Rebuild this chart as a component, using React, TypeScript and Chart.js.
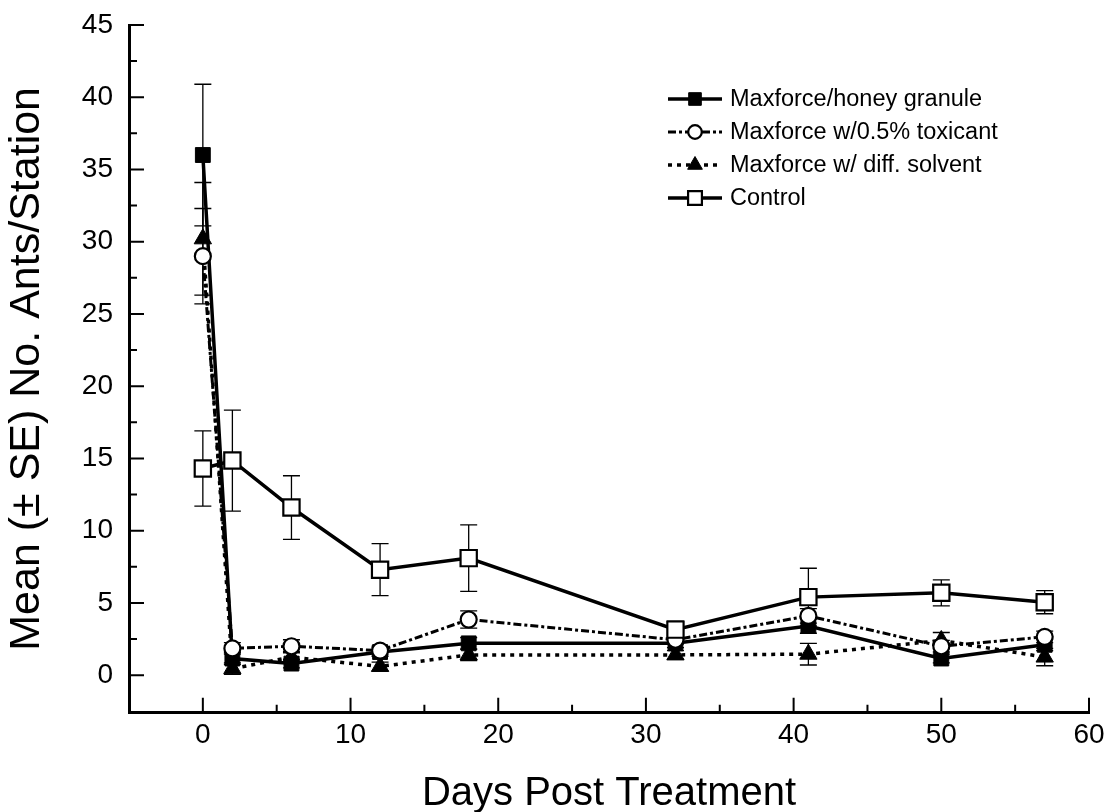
import React, { useEffect, useRef } from "react";
import { Chart, registerables } from "chart.js";

Chart.register(...registerables);

// ---- data ----
const days = [0, 2, 6, 12, 18, 32, 41, 50, 57];

const honeyMean = [36.0, 1.15, 0.8, 1.6, 2.2, 2.2, 3.4, 1.15, 2.1];
const honeySE = [4.9, 0.4, 0.3, 0.3, 0.4, 0.3, 0.5, 0.3, 0.4];

const toxicantMean = [29.0, 1.85, 2.0, 1.7, 3.85, 2.45, 4.1, 2.0, 2.65];
const toxicantSE = [3.3, 0.4, 0.45, 0.3, 0.6, 0.3, 0.5, 0.4, 0.4];

const solventMean = [30.2, 0.45, 1.25, 0.6, 1.4, 1.4, 1.45, 2.4, 1.25];
const solventSE = [3.9, 0.4, 0.4, 0.3, 0.4, 0.3, 0.75, 0.55, 0.6];

const controlMean = [14.3, 14.85, 11.6, 7.3, 8.1, 3.15, 5.4, 5.7, 5.05];
const controlSE = [2.6, 3.5, 2.2, 1.8, 2.3, 0.58, 2.0, 0.9, 0.8];

const seriesLabels = [
  "Maxforce/honey granule",
  "Maxforce w/0.5% toxicant",
  "Maxforce w/ diff. solvent",
  "Control",
];

const xTicks = [0, 10, 20, 30, 40, 50, 60];
const xMinorTicks = [5, 15, 25, 35, 45, 55];
const yTicks = [0, 5, 10, 15, 20, 25, 30, 35, 40, 45];
const yMinorTicks = [2.5, 7.5, 12.5, 17.5, 22.5, 27.5, 32.5, 37.5, 42.5];

const xTitle = "Days Post Treatment";
const yTitle = "Mean (\u00B1 SE) No. Ants/Station";

const FONT = "'Liberation Sans', Arial, Helvetica, sans-serif";

const seMap = [honeySE, toxicantSE, solventSE, controlSE];

function toPoints(vals: number[]) {
  return days.map((d, i) => ({ x: d, y: vals[i] }));
}

function drawMarker(
  ctx: CanvasRenderingContext2D,
  style: string,
  x: number,
  y: number,
  r: number,
  fill: string,
  stroke: string,
  lw: number
) {
  ctx.save();
  ctx.setLineDash([]);
  ctx.fillStyle = fill;
  ctx.strokeStyle = stroke;
  ctx.lineWidth = lw;
  ctx.beginPath();
  if (style === "rect") {
    const s = Math.SQRT1_2 * r;
    ctx.rect(x - s, y - s, 2 * s, 2 * s);
  } else if (style === "circle") {
    ctx.arc(x, y, r, 0, Math.PI * 2);
  } else if (style === "triangle") {
    ctx.moveTo(x, y - r);
    ctx.lineTo(x + r * Math.sin(Math.PI / 3), y + r * 0.5);
    ctx.lineTo(x - r * Math.sin(Math.PI / 3), y + r * 0.5);
    ctx.closePath();
  }
  ctx.fill();
  ctx.stroke();
  ctx.restore();
}

const errorBarPlugin = {
  id: "errorBars",
  beforeDatasetsDraw(chart: any) {
    const { ctx, scales } = chart;
    const xs = scales.x;
    const ys = scales.y;
    ctx.save();
    ctx.strokeStyle = "#000";
    ctx.lineWidth = 1.3;
    ctx.setLineDash([]);
    chart.data.datasets.forEach((ds: any, di: number) => {
      const se = seMap[di];
      ds.data.forEach((p: any, i: number) => {
        const px = xs.getPixelForValue(p.x);
        const top = ys.getPixelForValue(p.y + se[i]);
        const bot = ys.getPixelForValue(p.y - se[i]);
        const cap = 8.5;
        ctx.beginPath();
        ctx.moveTo(px, top);
        ctx.lineTo(px, bot);
        ctx.moveTo(px - cap, top);
        ctx.lineTo(px + cap, top);
        ctx.moveTo(px - cap, bot);
        ctx.lineTo(px + cap, bot);
        ctx.stroke();
      });
    });
    ctx.restore();
  },
};

const innerTicksPlugin = {
  id: "innerTicks",
  afterDatasetsDraw(chart: any) {
    const { ctx, chartArea, scales } = chart;
    const xs = scales.x;
    const ys = scales.y;
    ctx.save();
    ctx.strokeStyle = "#000";
    ctx.lineWidth = 2;
    ctx.setLineDash([]);
    ctx.beginPath();
    xTicks.forEach((v) => {
      const px = xs.getPixelForValue(v);
      ctx.moveTo(px, chartArea.bottom);
      ctx.lineTo(px, chartArea.bottom - 15);
    });
    xMinorTicks.forEach((v) => {
      const px = xs.getPixelForValue(v);
      ctx.moveTo(px, chartArea.bottom);
      ctx.lineTo(px, chartArea.bottom - 8);
    });
    yTicks.forEach((v) => {
      const py = ys.getPixelForValue(v);
      ctx.moveTo(chartArea.left, py);
      ctx.lineTo(chartArea.left + 15, py);
    });
    yMinorTicks.forEach((v) => {
      const py = ys.getPixelForValue(v);
      ctx.moveTo(chartArea.left, py);
      ctx.lineTo(chartArea.left + 8, py);
    });
    ctx.stroke();
    ctx.restore();
  },
};

const legendPlugin = {
  id: "customLegend",
  afterDraw(chart: any) {
    const { ctx } = chart;
    const x0 = 668;
    const x1 = 722;
    const xm = 695;
    const textX = 730;
    const rowY = [99, 132, 165, 198];
    ctx.save();
    chart.data.datasets.forEach((ds: any, i: number) => {
      const y = rowY[i];
      ctx.strokeStyle = "#000";
      ctx.lineWidth = ds.borderWidth;
      ctx.setLineDash(ds.borderDash || []);
      ctx.beginPath();
      ctx.moveTo(x0, y);
      ctx.lineTo(x1, y);
      ctx.stroke();
      drawMarker(
        ctx,
        ds.pointStyle,
        xm,
        y,
        ds.pointRadius * 0.85,
        ds.pointBackgroundColor,
        ds.pointBorderColor,
        ds.pointBorderWidth
      );
      ctx.setLineDash([]);
      ctx.fillStyle = "#000";
      ctx.font = `23.5px ${FONT}`;
      ctx.textAlign = "left";
      ctx.textBaseline = "middle";
      ctx.fillText(ds.label, textX, y + 1);
    });
    ctx.restore();
  },
};

export default function App() {
  const canvasRef = useRef<HTMLCanvasElement | null>(null);

  useEffect(() => {
    const canvas = canvasRef.current;
    if (!canvas) return;
    const chart = new Chart(canvas, {
      type: "line",
      data: {
        datasets: [
          {
            label: seriesLabels[0],
            data: toPoints(honeyMean),
            borderColor: "#000",
            borderWidth: 3.5,
            pointStyle: "rect",
            pointRadius: 10.5,
            pointBackgroundColor: "#000",
            pointBorderColor: "#000",
            pointBorderWidth: 1,
            order: 3,
          },
          {
            label: seriesLabels[1],
            data: toPoints(toxicantMean),
            borderColor: "#000",
            borderWidth: 3,
            borderDash: [8, 3, 3, 3],
            pointStyle: "circle",
            pointRadius: 8,
            pointBackgroundColor: "#fff",
            pointBorderColor: "#000",
            pointBorderWidth: 2.2,
            order: 1,
          },
          {
            label: seriesLabels[2],
            data: toPoints(solventMean),
            borderColor: "#000",
            borderWidth: 3.5,
            borderDash: [4, 5],
            pointStyle: "triangle",
            pointRadius: 10,
            pointBackgroundColor: "#000",
            pointBorderColor: "#000",
            pointBorderWidth: 1,
            order: 2,
          },
          {
            label: seriesLabels[3],
            data: toPoints(controlMean),
            borderColor: "#000",
            borderWidth: 3.5,
            pointStyle: "rect",
            pointRadius: 11.5,
            pointBackgroundColor: "#fff",
            pointBorderColor: "#000",
            pointBorderWidth: 2.2,
            order: 0,
          },
        ] as any,
      },
      options: {
        animation: false,
        responsive: false,
        devicePixelRatio: 1,
        layout: { padding: { left: 0, top: 25, right: 21, bottom: 0 } },
        plugins: {
          legend: { display: false },
          tooltip: { enabled: false },
        },
        elements: { line: { tension: 0 } },
        scales: {
          x: {
            type: "linear",
            min: -5,
            max: 60,
            afterFit: (s: any) => {
              s.height = 99.3;
              s.paddingLeft = 0;
              s.paddingRight = 0;
            },
            afterBuildTicks: (s: any) => {
              s.ticks = xTicks.map((v) => ({ value: v }));
            },
            grid: { display: true, drawOnChartArea: false, drawTicks: false },
            border: { display: true, width: 3, color: "#000" },
            ticks: {
              color: "#000",
              padding: 6,
              maxRotation: 0,
              font: { family: FONT, size: 28, lineHeight: 1.2 },
              callback: (v: any) => String(v),
            },
            title: {
              display: true,
              text: xTitle,
              color: "#000",
              font: { family: FONT, size: 40, lineHeight: 1.2 },
              padding: { top: 0, bottom: -6 },
            },
          },
          y: {
            type: "linear",
            min: -2.6,
            max: 45,
            afterFit: (s: any) => {
              s.width = 129;
              s.paddingTop = 0;
              s.paddingBottom = 0;
            },
            afterBuildTicks: (s: any) => {
              s.ticks = yTicks.map((v) => ({ value: v }));
            },
            grid: { display: true, drawOnChartArea: false, drawTicks: false },
            border: { display: true, width: 3, color: "#000" },
            ticks: {
              color: "#000",
              padding: 16,
              font: { family: FONT, size: 28, lineHeight: 1.2 },
              callback: (v: any) => String(v),
            },
            title: {
              display: true,
              text: yTitle,
              color: "#000",
              font: { family: FONT, size: 43, lineHeight: 1.2 },
              padding: { top: 1, bottom: 0 },
            },
          },
        },
      } as any,
      plugins: [errorBarPlugin, innerTicksPlugin, legendPlugin],
    });
    return () => {
      chart.destroy();
    };
  }, []);

  return (
    <div
      style={{
        position: "absolute",
        left: 0,
        top: 0,
        width: 1110,
        height: 812,
        background: "#fff",
      }}
    >
      <canvas
        ref={canvasRef}
        width={1110}
        height={812}
        style={{ width: 1110, height: 812, display: "block" }}
      />
    </div>
  );
}
